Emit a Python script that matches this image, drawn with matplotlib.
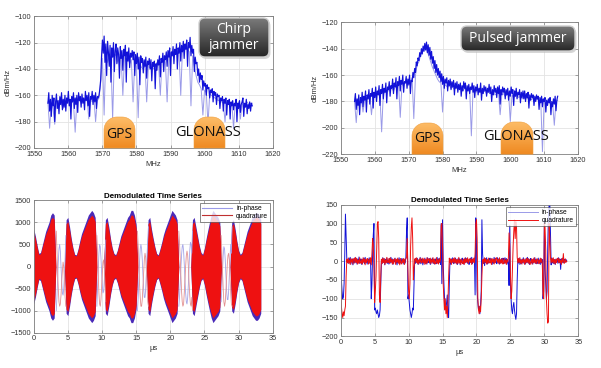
import numpy as np
import matplotlib
matplotlib.use("Agg")
import matplotlib.pyplot as plt
from matplotlib.patches import FancyBboxPatch, PathPatch
from matplotlib.path import Path
from matplotlib.colors import LinearSegmentedColormap

# ---------------- DATA ----------------
chirp_freq_start, chirp_freq_stop = 1554.0, 1614.0
# Chirp jammer spectrum (dBm/Hz), 0.25 MHz step (dark trace)
chirp_psd = [
    -166,-158,-172,-163,-176,-160,-168,-162,-180,-165,-159,-170,-164,-174,-161,-167,-158,-171,-163,-169,
    -160,-172,-162,-166,-157,-168,-163,-178,-161,-165,-158,-170,-162,-167,-160,-173,-158,-164,-161,-169,
    -159,-166,-162,-171,-157,-164,-160,-168,-158,-176,-161,-163,-157,-167,-160,-165,-158,-170,-161,-162,
    -160,-155,-148,-130,-118,-128,-115,-135,-121,-145,-119,-127,-138,-122,-150,-124,-131,-120,-142,-126,
    -121,-136,-124,-129,-147,-123,-132,-126,-141,-125,-130,-122,-150,-127,-134,-124,-139,-128,-131,-126,
    -133,-127,-145,-129,-136,-128,-140,-131,-152,-130,-135,-132,-143,-133,-138,-131,-147,-134,-137,-132,
    -140,-133,-149,-135,-138,-134,-155,-136,-141,-133,-137,-130,-146,-132,-135,-128,-142,-130,-133,-127,
    -138,-126,-131,-124,-145,-127,-130,-123,-136,-125,-129,-121,-140,-124,-128,-120,-134,-122,-127,-119,
    -132,-121,-125,-118,-138,-120,-124,-116,-130,-122,-128,-125,-142,-131,-136,-135,-145,-140,-150,-143,
    -148,-145,-156,-149,-153,-151,-160,-152,-155,-154,-162,-156,-158,-155,-165,-157,-160,-158,-167,-159,
    -161,-160,-170,-162,-164,-161,-172,-163,-166,-162,-175,-164,-167,-163,-178,-165,-168,-164,-171,-166,
    -168,-163,-180,-166,-170,-164,-173,-167,-165,-162,-176,-166,-169,-163,-174,-167,-170,-165,-172,-166,
    -168,
]
# Chirp jammer spectrum, faint trace (0.5 MHz step) showing the deep dips
chirp_psd_faint = [
    -165,-185,-166,-170,-182,-164,-168,-163,-167,-170,-164,-166,-162,-165,-163,-166,-188,-164,-162,-165,
    -163,-165,-164,-162,-178,-163,-165,-162,-180,-164,-162,-150,-132,-175,-128,-135,-130,-133,-178,-130,
    -129,-135,-131,-132,-160,-130,-134,-131,-136,-133,-165,-134,-138,-177,-136,-139,-140,-137,-165,-138,
    -139,-136,-140,-138,-135,-137,-160,-134,-130,-135,-165,-131,-128,-130,-127,-129,-126,-128,-160,-125,
    -126,-124,-125,-127,-168,-130,-138,-145,-150,-152,-155,-175,-156,-158,-182,-159,-160,-161,-162,-163,
    -164,-163,-165,-166,-180,-164,-166,-167,-165,-185,-166,-168,-165,-178,-167,-166,-168,-165,-167,-166,
    -166,
]
# Pulsed jammer spectrum (dBm/Hz), 0.25 MHz step
pulsed_psd = [
    -180,-174,-186,-178,-183,-175,-190,-177,-181,-173,-184,-176,-179,-172,-188,-175,-178,-171,-182,-174,
    -176,-170,-185,-173,-177,-169,-180,-172,-175,-168,-183,-171,-174,-167,-178,-170,-173,-166,-181,-169,
    -171,-165,-176,-168,-170,-163,-174,-166,-169,-162,-178,-165,-168,-161,-172,-164,-167,-160,-173,-165,
    -166,-161,-170,-163,-167,-160,-174,-164,-165,-158,-162,-155,-158,-150,-153,-147,-149,-143,-146,-140,
    -144,-138,-142,-136,-141,-135,-143,-137,-145,-139,-148,-142,-151,-146,-155,-149,-158,-152,-160,-155,
    -162,-157,-165,-159,-167,-161,-170,-163,-166,-162,-172,-164,-168,-163,-171,-165,-169,-164,-175,-166,
    -170,-165,-173,-167,-171,-166,-176,-168,-172,-165,-170,-166,-178,-168,-172,-167,-174,-169,-171,-166,
    -173,-168,-177,-169,-172,-167,-175,-170,-173,-166,-179,-170,-174,-168,-172,-169,-176,-170,-173,-167,
    -174,-169,-180,-171,-175,-168,-173,-170,-177,-169,-174,-168,-182,-171,-175,-169,-173,-170,-178,-171,
    -175,-170,-179,-172,-176,-169,-174,-171,-183,-172,-176,-170,-178,-173,-175,-171,-181,-173,-177,-172,
    -178,-172,-180,-174,-177,-173,-185,-175,-179,-174,-177,-175,-183,-176,-180,-175,-178,-176,-186,-177,
    -181,-176,-184,-178,-180,-177,-188,-179,-183,-178,-181,-177,-190,-180,-184,-178,-182,-176,-187,-179,
    -176,
]
pulsed_psd_faint = [
    -180,-196,-179,-181,-178,-188,-179,-177,-178,-176,-190,-177,-176,-175,-174,-176,-203,-174,-173,-172,
    -172,-171,-170,-172,-169,-168,-167,-192,-168,-167,-166,-165,-168,-165,-162,-193,-160,-152,-150,-145,
    -142,-141,-139,-142,-146,-150,-154,-157,-160,-163,-165,-166,-188,-167,-168,-169,-168,-170,-169,-171,
    -169,-170,-171,-169,-172,-170,-171,-172,-170,-206,-171,-172,-173,-171,-172,-174,-173,-172,-174,-173,
    -172,-174,-173,-175,-174,-173,-190,-175,-174,-176,-175,-174,-195,-175,-177,-176,-175,-177,-176,-178,
    -177,-176,-178,-177,-179,-178,-177,-179,-178,-180,-179,-218,-180,-179,-181,-180,-182,-181,-198,-180,
    -179,
]

# Chirp demodulated time series: amplitude of the dense bursts, 0.25 us step, 0..33.25 us
chirp_burst_env = [
    800, 650, 450, 280,     300, 450, 600, 750,     850, 950, 1100, 1150,   1100, 0, 0, 0,
    0, 0, 0, 1000,          1050, 850, 600, 400,    260, 250, 380, 550,     700, 800, 900, 1000,
    1100, 1150, 1200, 1150, 1050, 0, 0, 0,          0, 0, 1000, 1050,       850, 600, 400, 280,
    250, 350, 500, 650,     750, 850, 950, 1050,    1100, 1200, 1200, 1100, 900, 0, 0, 0,
    0, 0, 0, 1000,          1050, 800, 600, 420,    280, 250, 380, 520,     680, 800, 900, 1000,
    1100, 1200, 1150, 1100, 1000, 0, 0, 0,          0, 0, 0, 0,             0, 1000, 1050, 850,
    650, 450, 300, 260,     400, 600, 780, 950,     1100, 1200, 1150, 1100, 1050, 950, 0, 0,
    0, 0, 0, 0,             950, 1000, 800, 550,    350, 260, 300, 450,     600, 750, 850, 950,
    1050, 1100, 1150, 1150, 1100, 1000,
]
# Slow oscillations between the bursts: start time of each gap (us), samples every 0.1 us
chirp_gap_start = [3.3, 9.25, 15.2, 21.25, 27.45]
chirp_gap_inphase = [
    [-1000, -700, -300, 100, 400, 500, 350, 0, -350, -600, -650, -500, -200, 200, 700],
    [-900, -500, -100, 300, 500, 450, 200, -150, -450, -600, -550, -300, 100, 600],
    [-1000, -700, -300, 100, 400, 500, 400, 150, -200, -500, -700, -700, -500, -150, 250, 600, 900],
    [-900, -700, -400, -50, 250, 450, 500, 350, 50, -300, -600, -800, -850, -700, -400, 0, 350,
     550, 500, 300, 800],
    [-800, -500, -100, 250, 450, 400, 150, -200, -550, -750, -750, -550, -200, 200, 500, 300, 900],
]
chirp_gap_quadrature = [
    [800, 400, -100, -500, -800, -900, -850, -650, -350, -100, 100, 0, -300, -700, -900],
    [700, 300, -200, -600, -850, -900, -750, -450, -150, 100, 150, -50, -400, -800],
    [800, 450, 0, -400, -700, -900, -900, -750, -450, -150, 150, 300, 200, -100, -450, -800, -900],
    [800, 550, 200, -200, -550, -800, -900, -850, -600, -300, 0, 250, 350, 250, 0, -350, -650,
     -850, -900, -700, -1000],
    [700, 350, -100, -500, -800, -900, -800, -550, -250, 50, 250, 300, 150, -200, -600, -850, -900],
]

# Pulsed demodulated time series, 0.1 us step, 0..33.3 us
pulsed_inphase = [
    100, -50, -80, -100, -95, -60, 20, 125, 60, 5,
    3, -6, 8, -4, 10, -8, 2, 6, -10, 4,
    -5, 9, -3, 7, -8, 5, -2, 11, -6, 3,
    6, -9, 4, -3, 8, -7, 10, -4, 2, -8,
    5, -3, 9, -6, 4, -100, -60, 20, 70, 100,
    -130, -125, -135, -140, -130, -140, -150, -145, -130, -60,
    4, -7, 9, -3, 6, -10, 5, -4, 8, -6,
    3, -8, 7, -5, 10, -3, 6, -9, 4, -2,
    8, -6, 3, -10, 5, -4, 9, -7, 2, -5,
    7, -3, 6, -8, 4, -5, 10, 80, 115, -100,
    -90, -110, -130, -140, -150, -140, -125, -130, -60, 5,
    -6, 8, -4, 7, -9, 3, -5, 10, -7, 4,
    6, -10, 3, -5, 8, -6, 4, -8, 9, -3,
    -4, 7, -9, 5, -3, 8, -6, 4, -8, 6,
    3, -7, 10, -5, 6, -4, 8, -9, 100, -60,
    110, -10, -60, -100, -120, -130, -110, -90, -140, -150,
    -60, 5, -8, 6, -4, 9, -7, 3, -5, 8,
    -6, 4, -9, 7, -3, 6, -10, 5, -4, 8,
    4, -8, 6, -5, 9, -3, 7, -6, 3, -9,
    -5, 8, -4, 10, -7, 5, -3, 8, -90, 115,
    40, -80, -110, -130, -120, -140, -120, -80, 110, 20,
    -6, 5, -12, 7, -4, 9, -8, 4, -5, 6,
    8, -4, 6, -9, 3, -6, 10, -5, 7, -3,
    -7, 9, -4, 6, -8, 3, -5, 7, -3, 8,
    5, -6, 9, -4, 7, -8, 4, -5, -65, 95,
    -60, -100, -130, -140, -120, -110, -130, -145, -155, -140,
    -50, 6, -5, 8, -9, 4, -7, 5, -4, 9,
    -6, 3, -8, 7, -4, 10, -5, 6, -9, 4,
    7, -5, 4, -8, 6, -3, 9, -6, 5, -7,
    -4, 8, -6, 3, -9, 7, -5, 4, -100, -80,
    110, -20, -60, -100, -80, 40, 120, 150, 160, 80,
    -10, 8, -5, 6, -7, 4, -9, 5, -3, 7,
    -6, 9, -4, 5, -22, 6, -5, 8, -4, 3,
    5, -3, 4, 0,
]
pulsed_quadrature = [
    -75, -120, -140, -150, -135, -145, -130, -120, -40, 5,
    -4, 8, -6, 3, -9, 7, -3, 5, -8, 6,
    7, -5, 10, -4, 6, -8, 3, -6, 9, -3,
    -6, 4, -8, 9, -3, 6, -10, 5, -4, 7,
    3, -8, 6, -5, 9, -10, 20, 60, 45, -20,
    -110, -80, -40, 30, 100, 105, 60, -90, -110, -40,
    5, -6, 8, -4, 7, -9, 3, -5, 10, -3,
    -4, 7, -6, 9, -3, 5, -8, 4, -7, 6,
    6, -9, 5, -3, 8, -6, 4, -10, 7, -4,
    -8, 5, -4, 7, -9, 3, 6, 10, 60, -20,
    -80, -100, -60, 40, 90, 115, 60, -50, -20, 5,
    7, -4, 9, -6, 3, -8, 6, -3, 8, -5,
    -3, 8, -5, 6, -9, 4, -7, 9, -4, 6,
    6, -5, 8, -7, 4, -3, 9, -6, 5, -8,
    -5, 9, -6, 4, -8, 7, -3, 5, 95, 100,
    40, -60, -100, -130, -100, -140, -120, -150, -110, -40,
    8, -4, 6, -9, 5, -3, 7, -6, 9, -4,
    5, -8, 4, -6, 10, -5, 3, -9, 6, -3,
    -7, 5, -9, 8, -4, 6, -3, 9, -6, 4,
    6, -4, 7, -9, 5, -3, 8, -5, 20, 100,
    110, 60, -100, -130, -140, -120, -135, -100, -40, 3,
    5, -7, 9, -3, 6, -8, 4, -6, 8, -4,
    -5, 6, -9, 7, -3, 5, -8, 6, -4, 9,
    8, -3, 5, -7, 9, -6, 4, -5, 7, -8,
    -4, 7, -6, 3, -9, 5, -3, 8, 75, 40,
    -30, -100, -80, -20, 40, 80, 110, 60, 105, 90,
    10, -5, 7, -4, 9, -6, 3, -8, 5, -3,
    6, -9, 4, -5, 8, -3, 7, -6, 4, -9,
    -3, 6, -8, 5, -4, 9, -5, 3, -7, 6,
    5, -7, 3, -6, 8, -4, 6, -5, -90, -100,
    100, 90, 30, -100, -140, -165, -160, 100, 60, 10,
    -5, 7, -3, 9, -6, 4, -8, 5, -4, 6,
    8, -4, 6, -5, 3, -9, 7, -3, 20, -6,
    -4, 6, -3, 0,
]

legend_labels = ["in-phase", "quadrature"]
spec_xticks = [1550, 1560, 1570, 1580, 1590, 1600, 1610, 1620]
chirp_yticks = [-200, -180, -160, -140, -120, -100]
pulsed_yticks = [-220, -200, -180, -160, -140, -120]
chirp_ts_yticks = [-1500, -1000, -500, 0, 500, 1000, 1500]
pulsed_ts_yticks = [-200, -150, -100, -50, 0, 50, 100, 150]
time_xticks = [0, 5, 10, 15, 20, 25, 30, 35]

# ---------------- STYLE ----------------
plt.rcParams['font.family'] = ['Liberation Sans', 'DejaVu Sans']
TICK_FS = 5.3
GRID_C = '#e3e3e3'
SPINE_C = '#808080'
DARK_BLUE = '#1212d8'
FAINT_BLUE = '#9a9ae8'
RED = '#ee1111'

W, H = 601, 368
fig = plt.figure(figsize=(W / 100, H / 100), dpi=100)


def px_axes(x0, y0, x1, y1):
    return fig.add_axes([x0 / W, 1 - y1 / H, (x1 - x0) / W, (y1 - y0) / H])


def style(ax):
    ax.grid(True, color=GRID_C, lw=0.6)
    ax.set_axisbelow(True)
    for s in ax.spines.values():
        s.set_color(SPINE_C)
        s.set_linewidth(0.6)
    ax.tick_params(direction='in', length=2, width=0.5, colors=SPINE_C,
                   labelcolor='#333333', labelsize=TICK_FS, pad=2,
                   top=True, right=True)


f_fine = np.arange(chirp_freq_start, chirp_freq_stop + 0.01, 0.25)
f_coarse = np.arange(chirp_freq_start, chirp_freq_stop + 0.01, 0.5)

# Top-left: chirp spectrum
ax1 = px_axes(34.3, 16.3, 272.7, 148)
ax1.plot(f_coarse, chirp_psd_faint, color=FAINT_BLUE, lw=0.7)
ax1.plot(f_fine, chirp_psd, color=DARK_BLUE, lw=0.85)
ax1.set_xlim(1550, 1620)
ax1.set_ylim(-200, -100)
ax1.set_xticks(spec_xticks)
ax1.set_yticks(chirp_yticks)
ax1.set_xlabel('MHz', fontsize=5.5, color='#333333', labelpad=2)
ax1.set_ylabel('dBm/Hz', fontsize=5.5, color='#333333', labelpad=2)
style(ax1)

# Top-right: pulsed spectrum
ax2 = px_axes(341, 22.3, 578, 154.3)
ax2.plot(f_coarse, pulsed_psd_faint, color=FAINT_BLUE, lw=0.7)
ax2.plot(f_fine, pulsed_psd, color=DARK_BLUE, lw=0.85)
ax2.set_xlim(1550, 1620)
ax2.set_ylim(-220, -120)
ax2.set_xticks(spec_xticks)
ax2.set_yticks(pulsed_yticks)
ax2.set_xlabel('MHz', fontsize=5.5, color='#333333', labelpad=2)
ax2.set_ylabel('dBm/Hz', fontsize=5.5, color='#333333', labelpad=2)
style(ax2)

# Bottom-left: chirp time series
ax3 = px_axes(33.7, 200.3, 272.7, 332.7)
for g0, gi, gq in zip(chirp_gap_start, chirp_gap_inphase, chirp_gap_quadrature):
    tg = g0 + np.arange(len(gi)) * 0.1
    ax3.plot(tg, gi, color='#a4a4e8', lw=0.6)
    ax3.plot(tg, gq, color='#e39090', lw=0.6)
t_env = np.arange(len(chirp_burst_env)) * 0.25
env = np.array(chirp_burst_env, dtype=float)
ax3.fill_between(t_env, -env * 1.06, env * 1.06, color='#4a2ab8', lw=0)
ax3.fill_between(t_env, -env * 0.97, env * 0.97, color=RED, lw=0)
ax3.plot([], [], color=FAINT_BLUE, lw=0.8, label=legend_labels[0])
ax3.plot([], [], color='#c03030', lw=0.8, label=legend_labels[1])
ax3.set_xlim(0, 35)
ax3.set_ylim(-1500, 1500)
ax3.set_xticks(time_xticks)
ax3.set_yticks(chirp_ts_yticks)
ax3.set_title('Demodulated Time Series', fontsize=5.8, fontweight='bold', pad=2)
ax3.set_xlabel('µs', fontsize=5.5, color='#333333', labelpad=2)
style(ax3)
leg = ax3.legend(loc='upper right', fontsize=4.8, frameon=True, fancybox=False,
                 edgecolor='#333333', borderpad=0.3, handlelength=4.5,
                 labelspacing=0.1, borderaxespad=0.4, handletextpad=0.6)
leg.get_frame().set_linewidth(0.5)

# Bottom-right: pulsed time series
ax4 = px_axes(340.7, 204.7, 578.3, 336.3)
t_p = np.arange(len(pulsed_inphase)) * 0.1
ax4.plot(t_p, pulsed_inphase, color=DARK_BLUE, lw=0.7, label=legend_labels[0])
ax4.plot(t_p, pulsed_quadrature, color=RED, lw=0.7, label=legend_labels[1])
ax4.set_xlim(0, 35)
ax4.set_ylim(-200, 150)
ax4.set_xticks(time_xticks)
ax4.set_yticks(pulsed_ts_yticks)
ax4.set_title('Demodulated Time Series', fontsize=5.8, fontweight='bold', pad=2)
ax4.set_xlabel('µs', fontsize=5.5, color='#333333', labelpad=2)
style(ax4)
leg = ax4.legend(loc='upper right', fontsize=4.8, frameon=True, fancybox=False,
                 edgecolor='#333333', borderpad=0.3, handlelength=4.5,
                 labelspacing=0.1, borderaxespad=0.4, handletextpad=0.6)
leg.get_frame().set_linewidth(0.5)
leg.get_lines()[0].set_color(FAINT_BLUE)

# ---------------- OVERLAY ANNOTATIONS ----------------
ov = fig.add_axes([0, 0, 1, 1], zorder=10)
ov.set_xlim(0, W)
ov.set_ylim(H, 0)
ov.axis('off')
ov.set_autoscale_on(False)


def gradient_fill(patch, c_top, c_bot, x0, x1, y0, y1):
    patch.set_facecolor('none')
    ov.add_patch(patch)
    cmap = LinearSegmentedColormap.from_list('g', [c_top, c_bot])
    grad = np.linspace(0, 1, 64).reshape(-1, 1)
    im = ov.imshow(grad, cmap=cmap, extent=(x0, x1, y1, y0), origin='upper',
                   aspect='auto', interpolation='bilinear', zorder=patch.get_zorder() - 0.1)
    im.set_clip_path(patch)


def dome(x0, x1, ytop, ybot, r=13):
    n = 20
    verts = [(x0, ybot), (x0, ytop + r)]
    a = np.linspace(np.pi, 1.5 * np.pi, n)
    verts += [(x0 + r + r * np.cos(t), ytop + r + r * np.sin(t)) for t in a]
    a = np.linspace(1.5 * np.pi, 2 * np.pi, n)
    verts += [(x1 - r + r * np.cos(t), ytop + r + r * np.sin(t)) for t in a]
    verts += [(x1, ybot), (x0, ybot)]
    codes = [Path.MOVETO] + [Path.LINETO] * (len(verts) - 2) + [Path.CLOSEPOLY]
    p = PathPatch(Path(verts, codes), edgecolor='#f0a040', lw=0.4, zorder=2)
    gradient_fill(p, '#fdbd68', '#ef8a22', x0, x1, ytop, ybot)


def jam_box(x0, x1, y0, y1, text, fs):
    sh = FancyBboxPatch((x0 + 1.5, y0 + 2), x1 - x0, y1 - y0,
                        boxstyle='round,pad=0,rounding_size=6',
                        facecolor='#bbbbbb', edgecolor='none', alpha=0.6, zorder=3)
    ov.add_patch(sh)
    b = FancyBboxPatch((x0, y0), x1 - x0, y1 - y0,
                       boxstyle='round,pad=0,rounding_size=6',
                       edgecolor='#cfcfcf', lw=1.0, zorder=4)
    gradient_fill(b, '#7a7a7a', '#262626', x0, x1, y0, y1)
    ov.text((x0 + x1) / 2, (y0 + y1) / 2, text, color='white', fontsize=fs,
            ha='center', va='center', family='Open Sans', linespacing=1.05, zorder=6)


# top-left panel
dome(104, 135, 117, 148)
dome(194, 225, 117, 148)
ov.text(119.5, 134, 'GPS', fontsize=10, family='Open Sans', ha='center', va='center', zorder=6, color='#111111')
ov.text(208.5, 133, 'GLONASS', fontsize=10.5, family='Open Sans', ha='center', va='center', zorder=6, color='#111111')
jam_box(199, 269, 18, 57, 'Chirp\njammer', 10)

# top-right panel
dome(412, 443, 123, 154.3)
dome(501, 533, 122, 154.3)
ov.text(427.5, 138, 'GPS', fontsize=10, family='Open Sans', ha='center', va='center', zorder=6, color='#111111')
ov.text(515.5, 137, 'GLONASS', fontsize=10.5, family='Open Sans', ha='center', va='center', zorder=6, color='#111111')
jam_box(461, 575, 26, 51, 'Pulsed jammer', 10)

fig.savefig('out.png', dpi=100, facecolor='white')
